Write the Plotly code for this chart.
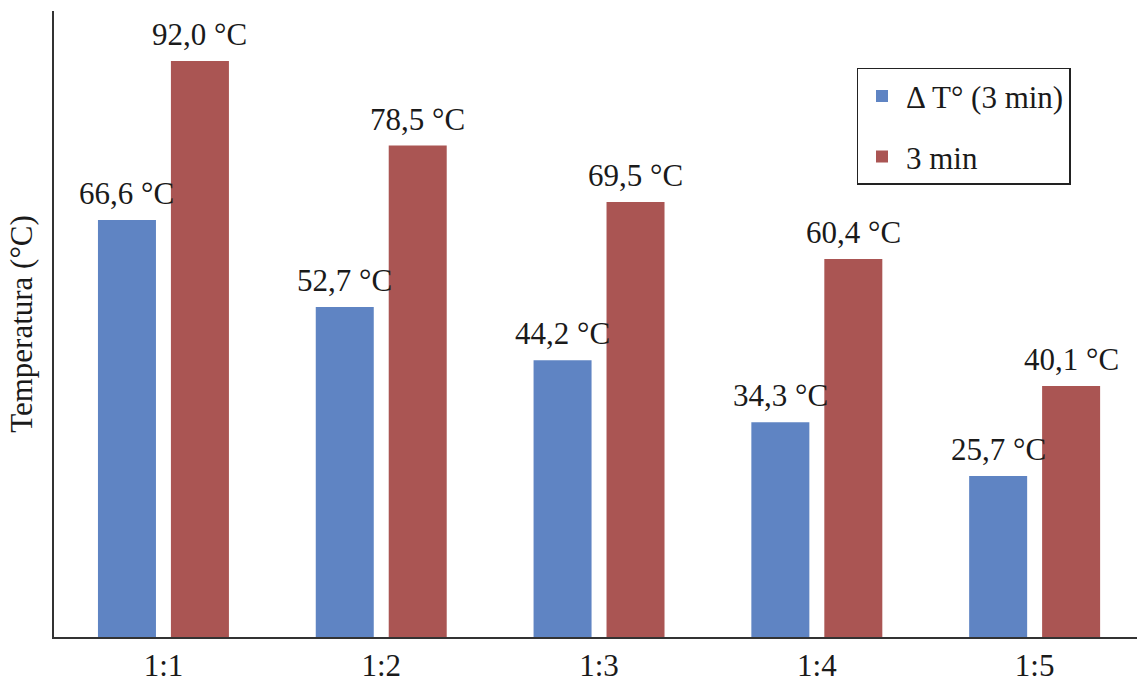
import plotly.graph_objects as go

categories = ["1:1", "1:2", "1:3", "1:4", "1:5"]
delta_t = [66.6, 52.7, 44.2, 34.3, 25.7]
three_min = [92.0, 78.5, 69.5, 60.4, 40.1]
series_names = ["\u0394 T\u00b0 (3 min)", "3 min"]

BLUE = "#5F84C3"
RED = "#AA5553"
FONT = "Liberation Serif, Times New Roman, serif"
TXT = "#1a1a1a"


def fmt(v):
    return f"{v:.1f}".replace(".", ",") + " \u00b0C"


fig = go.Figure()
fig.add_trace(go.Bar(x=categories, y=delta_t, name=series_names[0],
                     marker=dict(color=BLUE, line=dict(width=0)),
                     legendgroup="a"))
fig.add_trace(go.Bar(x=categories, y=three_min, name=series_names[1],
                     marker=dict(color=RED, line=dict(width=0)),
                     legendgroup="b"))

# value labels above each bar
off = 0.1675
for i, (a, b) in enumerate(zip(delta_t, three_min)):
    for xv, yv in ((i - off, a), (i + off, b)):
        fig.add_annotation(x=xv, y=yv, xref="x", yref="y", text=fmt(yv),
                           showarrow=False, yanchor="bottom", yshift=7,
                           font=dict(family=FONT, size=31, color=TXT))

fig.update_layout(
    width=1137, height=690,
    margin=dict(l=54, r=0, t=11, b=53),
    paper_bgcolor="white", plot_bgcolor="white",
    barmode="group", bargap=0.33, bargroupgap=0.205,
    font=dict(family=FONT, size=31, color=TXT),
    showlegend=True,
    legend=dict(x=0.741, y=0.909, xanchor="left", yanchor="top",
                bgcolor="white", bordercolor="#222", borderwidth=1.5,
                font=dict(family=FONT, size=31, color=TXT),
                itemwidth=38,
                traceorder="grouped", tracegroupgap=17),
    xaxis=dict(range=[-0.5025, 4.47], showline=True, linecolor="#333",
               linewidth=2, ticks="", showgrid=False, zeroline=False,
               tickfont=dict(family=FONT, size=31, color=TXT)),
    yaxis=dict(range=[0, 100], showline=True, linecolor="#333", linewidth=2,
               ticks="", showticklabels=False, showgrid=False,
               zeroline=False,
               title=dict(text="Temperatura (\u00b0C)", standoff=10,
                          font=dict(family=FONT, size=31, color=TXT))),
)

fig.write_html("out.html")
